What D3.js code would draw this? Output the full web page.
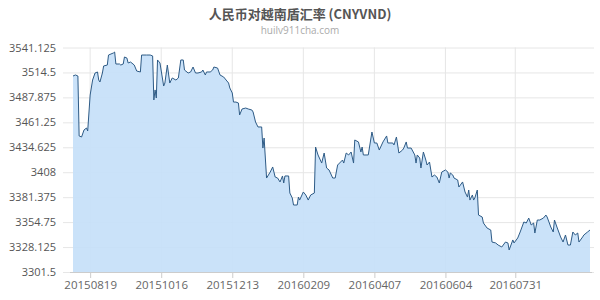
<!DOCTYPE html>
<html><head><meta charset="utf-8">
<script src="https://cdn.jsdelivr.net/npm/d3@7"></script>
<style>html,body{margin:0;padding:0;background:#fff;}svg{display:block;}</style>
</head><body><svg id="c" width="600" height="300"></svg>
<script>
const titleText = "人民币对越南盾汇率 (CNYVND)";
const subtitleText = "huilv911cha.com";
const dates = ["20150805","20150807","20150809","20150810","20150812","20150814","20150816","20150817","20150819","20150821","20150823","20150825","20150826","20150827","20150829","20150830","20150902","20150903","20150905","20150907","20150908","20150909","20150912","20150913","20150915","20150916","20150918","20150919","20150921","20150924","20150926","20150929","20150930","20151004","20151007","20151009","20151010","20151011","20151012","20151013","20151015","20151018","20151019","20151021","20151023","20151025","20151028","20151030","20151101","20151103","20151104","20151107","20151109","20151111","20151113","20151115","20151118","20151119","20151121","20151122","20151125","20151127","20151128","20151201","20151203","20151206","20151208","20151210","20151211","20151213","20151214","20151216","20151218","20151219","20151221","20151224","20151226","20151229","20151230","20160101","20160103","20160106","20160107","20160108","20160110","20160113","20160115","20160117","20160119","20160121","20160123","20160124","20160125","20160128","20160129","20160131","20160201","20160204","20160205","20160206","20160209","20160211","20160213","20160215","20160218","20160219","20160221","20160224","20160226","20160228","20160301","20160304","20160306","20160308","20160312","20160313","20160315","20160317","20160319","20160321","20160322","20160325","20160327","20160328","20160329","20160402","20160405","20160407","20160409","20160411","20160414","20160417","20160418","20160422","20160423","20160425","20160427","20160430","20160501","20160503","20160504","20160507","20160510","20160511","20160512","20160514","20160515","20160517","20160519","20160520","20160522","20160524","20160526","20160528","20160530","20160601","20160604","20160606","20160607","20160608","20160610","20160611","20160614","20160615","20160618","20160620","20160622","20160623","20160624","20160626","20160627","20160628","20160630","20160701","20160704","20160705","20160708","20160711","20160712","20160715","20160717","20160720","20160723","20160725","20160726","20160729","20160730","20160802","20160804","20160807","20160809","20160811","20160813","20160815","20160816","20160818","20160820","20160823","20160825","20160826","20160829","20160831","20160901","20160903","20160906","20160908","20160910","20160912","20160914","20160916","20160918","20160920","20160921","20160924","20160925","20160928","20160930"];
const rates = [3510.7,3511.8,3510.7,3446.7,3445.6,3453.1,3455.2,3452.0,3490.4,3506.4,3513.9,3515.0,3506.4,3504.3,3513.9,3521.4,3522.4,3533.1,3534.2,3535.3,3536.3,3523.5,3523.5,3522.4,3523.5,3531.0,3529.9,3524.6,3525.6,3522.4,3516.0,3515.0,3533.1,3533.1,3533.1,3532.1,3485.1,3495.8,3487.2,3527.8,3524.6,3500.0,3503.2,3522.4,3503.2,3508.6,3506.4,3508.6,3527.8,3527.8,3517.1,3513.9,3515.0,3520.3,3513.9,3513.9,3515.0,3517.1,3511.8,3515.0,3515.0,3517.1,3520.3,3519.2,3511.8,3509.6,3506.4,3503.2,3497.9,3492.6,3482.9,3482.9,3481.9,3469.1,3475.5,3476.5,3475.5,3474.4,3472.3,3461.6,3456.3,3456.3,3433.8,3444.5,3401.8,3408.2,3413.6,3402.9,3401.8,3397.6,3404.0,3396.5,3404.0,3404.0,3385.8,3380.5,3373.0,3373.0,3381.5,3378.3,3386.9,3383.7,3378.3,3383.7,3385.8,3434.9,3426.4,3417.8,3428.5,3412.5,3410.4,3401.8,3401.8,3415.7,3421.0,3417.8,3428.5,3426.4,3429.6,3417.8,3442.4,3440.3,3429.6,3434.9,3426.4,3426.4,3450.9,3439.2,3439.2,3431.7,3440.3,3446.7,3439.2,3439.2,3437.1,3445.6,3428.5,3431.7,3433.8,3440.3,3433.8,3433.8,3426.4,3417.8,3426.4,3423.2,3412.5,3429.6,3421.0,3415.7,3418.9,3402.9,3405.0,3402.9,3396.5,3408.2,3410.4,3408.2,3401.8,3407.2,3405.0,3401.8,3399.7,3392.2,3397.6,3386.9,3381.5,3389.0,3378.3,3383.7,3378.3,3380.5,3389.0,3362.3,3360.2,3353.8,3348.4,3346.3,3333.5,3332.5,3330.3,3328.2,3333.5,3332.5,3325.0,3335.7,3332.5,3337.8,3344.2,3354.9,3353.8,3359.1,3351.7,3353.8,3343.1,3357.0,3357.0,3359.1,3362.3,3360.2,3349.5,3344.2,3357.0,3349.5,3338.9,3333.5,3341.0,3330.3,3330.3,3344.2,3341.0,3343.1,3333.5,3338.9,3341.0,3344.2,3346.3];
const xTickLabels = ["20150819","20151016","20151213","20160209","20160407","20160604","20160731"];
const yTickLabels = ["3301.5","3328.125","3354.75","3381.375","3408","3434.625","3461.25","3487.875","3514.5","3541.125"];

const parse = d3.timeParse("%Y%m%d");
const fmt = d3.timeFormat("%Y%m%d");
const data = dates.map((d, i) => ({date: parse(d), value: rates[i]}));
const svg = d3.select("#c");
const L = 73, R = 590, T = 47.5, B = 272;

const x = d3.scaleTime().domain([parse(dates[0]), parse(dates[dates.length - 1])]).range([L, R]);
const yVals = yTickLabels.map(Number);
const y = d3.scaleLinear().domain([d3.min(yVals), d3.max(yVals)]).range([B, T]);

// title
svg.append("text").attr("x", 300).attr("y", 19).attr("text-anchor", "middle")
  .attr("font-family", "'Noto Sans CJK SC', sans-serif").attr("font-weight", "bold")
  .attr("font-size", 13).attr("fill", "#555").text(titleText);
svg.append("text").attr("x", 300).attr("y", 34).attr("text-anchor", "middle")
  .attr("font-family", "'Open Sans', sans-serif").attr("font-size", 10)
  .attr("fill", "#aaa").text(subtitleText);

// area + line
const area = d3.area().x(d => x(d.date)).y0(B).y1(d => y(d.value));
const line = d3.line().x(d => x(d.date)).y(d => y(d.value));

// horizontal grid
const yAxis = d3.axisLeft(y).tickValues(yVals).tickSize(-(594 - 63)).tickFormat((d, i) => yTickLabels[i]);
const gy = svg.append("g").attr("transform", `translate(63,0)`).call(yAxis);
gy.select(".domain").remove();
gy.selectAll(".tick line").attr("stroke", "#e6e6e6");
gy.selectAll(".tick text").attr("x", -7).attr("font-family", "'Open Sans', sans-serif")
  .attr("font-size", 11).attr("fill", "#555");

// vertical grid
const xTicks = xTickLabels.map(parse);
svg.append("g").selectAll("line").data(xTicks).join("line")
  .attr("x1", d => x(d)).attr("x2", d => x(d)).attr("y1", T).attr("y2", B)
  .attr("stroke", "#e6e6e6");

svg.append("path").datum(data).attr("d", area).attr("fill", "#c5e0f8").attr("fill-opacity", 0.92);
svg.append("path").datum(data).attr("d", line).attr("fill", "none")
  .attr("stroke", "#2e5b86").attr("stroke-width", 1).attr("stroke-linejoin", "round");

// x axis
const xAxis = d3.axisBottom(x).tickValues(xTicks).tickSize(6).tickSizeOuter(0).tickFormat(fmt);
const gx = svg.append("g").attr("transform", `translate(0,${B})`).call(xAxis);
gx.select(".domain").attr("d", `M${L - 3},0.5H${R + 2}`).attr("stroke", "#ccc");
gx.selectAll(".tick line").attr("stroke", "#ccc");
gx.selectAll(".tick text").attr("y", 9).attr("font-family", "'Open Sans', sans-serif")
  .attr("font-size", 11.5).attr("fill", "#666");
</script></body></html>
